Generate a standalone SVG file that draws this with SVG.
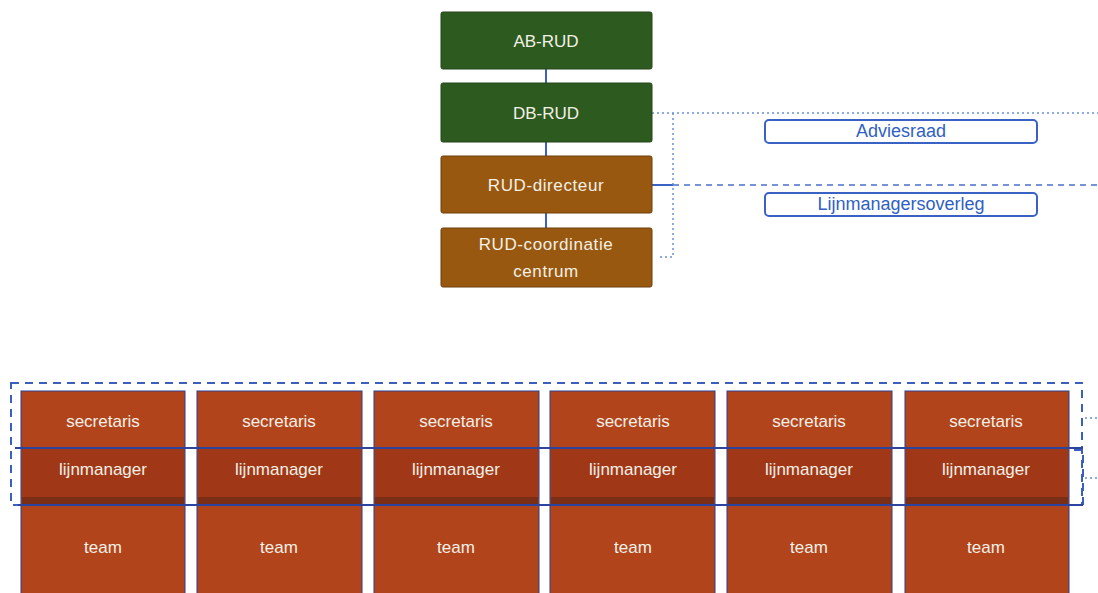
<svg xmlns="http://www.w3.org/2000/svg" width="1098" height="593" viewBox="0 0 1098 593">
<style>
.t{font-family:"Liberation Sans",Arial,sans-serif;font-size:17px;fill:#f3f0e6;text-anchor:middle;dominant-baseline:central}
.g{fill:#2d5a1f;stroke:#24451a;stroke-width:1}
.b{fill:#985810;stroke:#6e3f0c;stroke-width:1}
.sec{fill:#b2441c;stroke:#2b3f8a;stroke-width:1}
.lm{fill:#a03818}
.bl{font-family:"Liberation Sans",Arial,sans-serif;font-size:18px;fill:#2f5fc4;text-anchor:middle;dominant-baseline:central}
.pill{fill:#ffffff;stroke:#3a62c4;stroke-width:2}
.solid{stroke:#3a62c4;stroke-width:2;fill:none}
.dot{stroke:#6a8fd8;stroke-width:1.5;stroke-dasharray:2 3;fill:none}
.dash{stroke:#4a70cc;stroke-width:1.5;stroke-dasharray:6 5;fill:none}
.bdash{stroke:#3a5fbf;stroke-width:2;stroke-dasharray:8 6;fill:none}
.hl{stroke:#2a44a0;stroke-width:2}
</style>
<rect width="1098" height="593" fill="#ffffff"/>
<g id="connectors">
<line class="solid" x1="546" y1="69" x2="546" y2="228"/>
<line class="solid" x1="652" y1="185" x2="673" y2="185"/>
<line class="dot" x1="652" y1="113" x2="1098" y2="113"/>
<polyline class="dot" points="673,113 673,257 658,257"/>
<line class="dash" x1="673" y1="185" x2="1098" y2="185"/>
<rect class="bdash" x="11" y="383" width="1071" height="122"/>
<polyline class="bdash" points="1074,450 1083,450 1083,505 1074,505"/>
<line class="dot" x1="1085" y1="418" x2="1098" y2="418"/>
<line class="dot" x1="1085" y1="478" x2="1098" y2="478"/>
</g>
<g id="ab-rud"><rect class="g" x="441" y="12" width="211" height="57" rx="2"/><text class="t" x="546" y="41">AB-RUD</text></g>
<g id="db-rud"><rect class="g" x="441" y="83" width="211" height="59" rx="2"/><text class="t" x="546" y="113">DB-RUD</text></g>
<g id="rud-directeur"><rect class="b" x="441" y="156" width="211" height="57" rx="2"/><text class="t" x="546" y="185" letter-spacing="0.6">RUD-directeur</text></g>
<g id="rud-coordinatie"><rect class="b" x="441" y="228" width="211" height="59" rx="2"/><text class="t" x="546" y="244" letter-spacing="0.6">RUD-coordinatie</text><text class="t" x="546" y="271" letter-spacing="0.6">centrum</text></g>
<g id="adviesraad"><rect class="pill" x="765" y="120" width="272" height="23" rx="4"/><text class="bl" x="901" y="131">Adviesraad</text></g>
<g id="lijnmanagersoverleg"><rect class="pill" x="765" y="193" width="272" height="23" rx="4"/><text class="bl" x="901" y="204">Lijnmanagersoverleg</text></g>
<g id="col1"><rect class="sec" x="21" y="391" width="164" height="210"/><rect class="lm" x="22" y="448" width="162" height="57"/><rect x="22" y="497" width="162" height="8" fill="#7a2e16"/><text class="t" x="103" y="421">secretaris</text><text class="t" x="103" y="469">lijnmanager</text><text class="t" x="103" y="547">team</text></g>
<g id="col2"><rect class="sec" x="197" y="391" width="165" height="210"/><rect class="lm" x="198" y="448" width="163" height="57"/><rect x="198" y="497" width="163" height="8" fill="#7a2e16"/><text class="t" x="279" y="421">secretaris</text><text class="t" x="279" y="469">lijnmanager</text><text class="t" x="279" y="547">team</text></g>
<g id="col3"><rect class="sec" x="374" y="391" width="165" height="210"/><rect class="lm" x="375" y="448" width="163" height="57"/><rect x="375" y="497" width="163" height="8" fill="#7a2e16"/><text class="t" x="456" y="421">secretaris</text><text class="t" x="456" y="469">lijnmanager</text><text class="t" x="456" y="547">team</text></g>
<g id="col4"><rect class="sec" x="550" y="391" width="165" height="210"/><rect class="lm" x="551" y="448" width="163" height="57"/><rect x="551" y="497" width="163" height="8" fill="#7a2e16"/><text class="t" x="633" y="421">secretaris</text><text class="t" x="633" y="469">lijnmanager</text><text class="t" x="633" y="547">team</text></g>
<g id="col5"><rect class="sec" x="727" y="391" width="165" height="210"/><rect class="lm" x="728" y="448" width="163" height="57"/><rect x="728" y="497" width="163" height="8" fill="#7a2e16"/><text class="t" x="809" y="421">secretaris</text><text class="t" x="809" y="469">lijnmanager</text><text class="t" x="809" y="547">team</text></g>
<g id="col6"><rect class="sec" x="905" y="391" width="164" height="210"/><rect class="lm" x="906" y="448" width="162" height="57"/><rect x="906" y="497" width="162" height="8" fill="#7a2e16"/><text class="t" x="986" y="421">secretaris</text><text class="t" x="986" y="469">lijnmanager</text><text class="t" x="986" y="547">team</text></g>
<g id="row-lines">
<line class="hl" x1="15" y1="448" x2="1083" y2="448"/>
<line class="hl" x1="18" y1="505" x2="1083" y2="505"/>
</g>
</svg>
